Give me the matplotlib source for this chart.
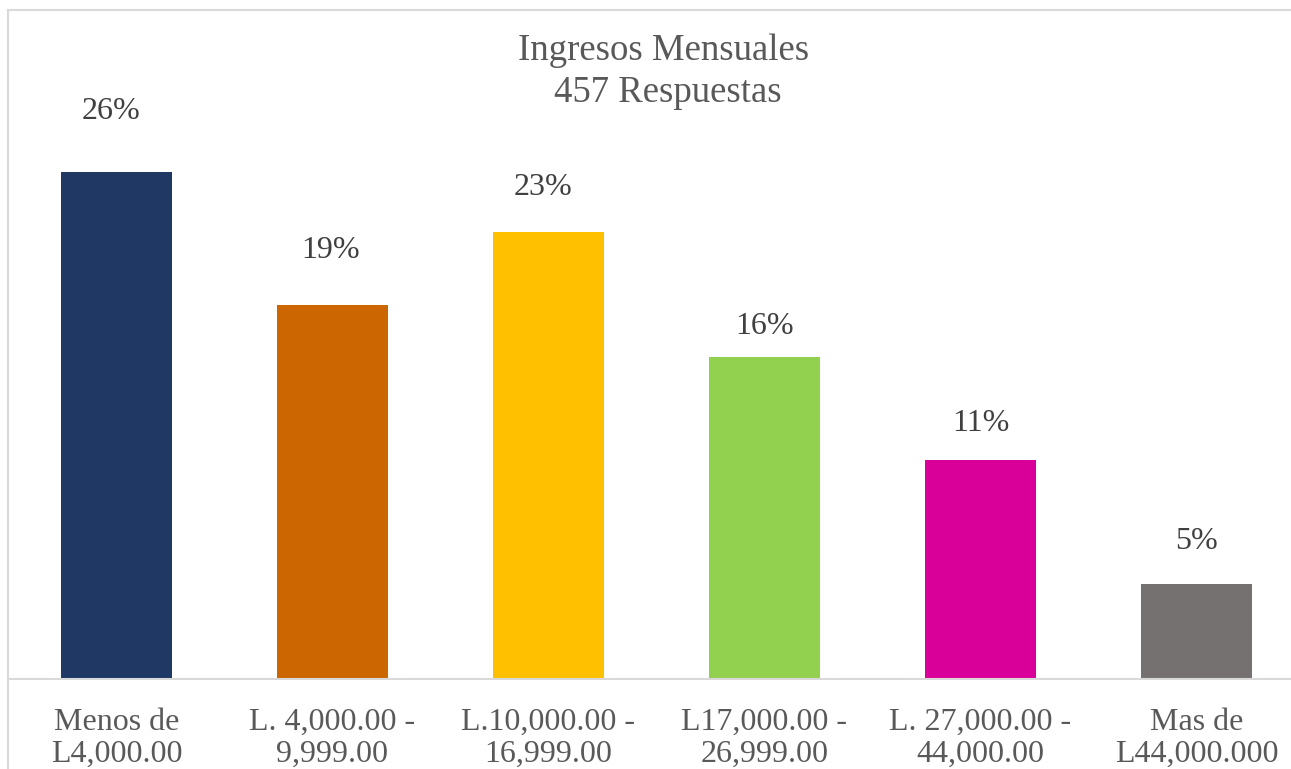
import matplotlib
matplotlib.use("Agg")
import matplotlib.pyplot as plt
from matplotlib.patches import Rectangle

# Income brackets and number of responses (457 total)
categories = [
    "Menos de\nL4,000.00",
    "L. 4,000.00 -\n9,999.00",
    "L.10,000.00 -\n16,999.00",
    "L17,000.00 -\n26,999.00",
    "L. 27,000.00 -\n44,000.00",
    "Mas de\nL44,000.000",
]
responses = [118, 87, 104, 75, 51, 22]
bar_colors = ["#203864", "#CC6600", "#FFC000", "#92D050", "#D9009A", "#767171"]

total = sum(responses)
percent = [r / total * 100 for r in responses]

# label offsets from the top of each bar, in pixels (dx, dy)
label_shift = [(-5, 60), (-2, 55), (-5, 45), (0, 30), (0, 36), (0, 43)]

W, H, DPI = 1291, 769, 100
fig = plt.figure(figsize=(W / DPI, H / DPI), dpi=DPI)
fig.patch.set_facecolor("white")

plt.rcParams["font.family"] = ["Liberation Serif", "DejaVu Serif"]

# chart border (light gray frame, runs past the right/bottom edges)
fig.add_artist(Rectangle((8 / W, -0.1), 1.2, (H - 10) / H + 0.1,
                         transform=fig.transFigure, fill=False,
                         edgecolor="#d9d9d9", linewidth=1.5))

# plot area: baseline at y=679px, columns spaced 216px starting at 8.5px
left = 8.5 / W
bottom = (H - 679) / H
ax_w = 216 * 6 / W
ymax = 34.0
ax_h = ymax * 19.64 / H
ax = fig.add_axes([left, bottom, ax_w, ax_h])

x = range(len(categories))
bars = ax.bar(x, percent, width=0.514, color=bar_colors, zorder=2)
ax.set_xlim(-0.5, len(categories) - 0.5)
ax.set_ylim(0, ymax)

for b, p, (dx, dy) in zip(bars, percent, label_shift):
    ax.annotate(f"{p:.0f}%", xy=(b.get_x() + b.get_width() / 2, b.get_height()),
                xytext=(dx * 72 / DPI, dy * 72 / DPI), textcoords="offset points",
                ha="center", va="center", fontsize=23, color="#404040")

for s in ["top", "right", "left"]:
    ax.spines[s].set_visible(False)
ax.spines["bottom"].set_color("#d9d9d9")
ax.spines["bottom"].set_linewidth(1.5)
ax.set_yticks([])
ax.set_xticks(list(x))
ax.set_xticklabels(categories, fontsize=23, color="#595959", linespacing=1.12)
ax.tick_params(axis="x", length=0, pad=21)
ax.patch.set_alpha(0)

fig.text(668 / W, 1 - 72 / H, "Ingresos Mensuales \n457 Respuestas",
         ha="center", va="center", fontsize=26.5, color="#595959",
         linespacing=1.3)

fig.savefig("out.png", dpi=DPI, facecolor="white")
